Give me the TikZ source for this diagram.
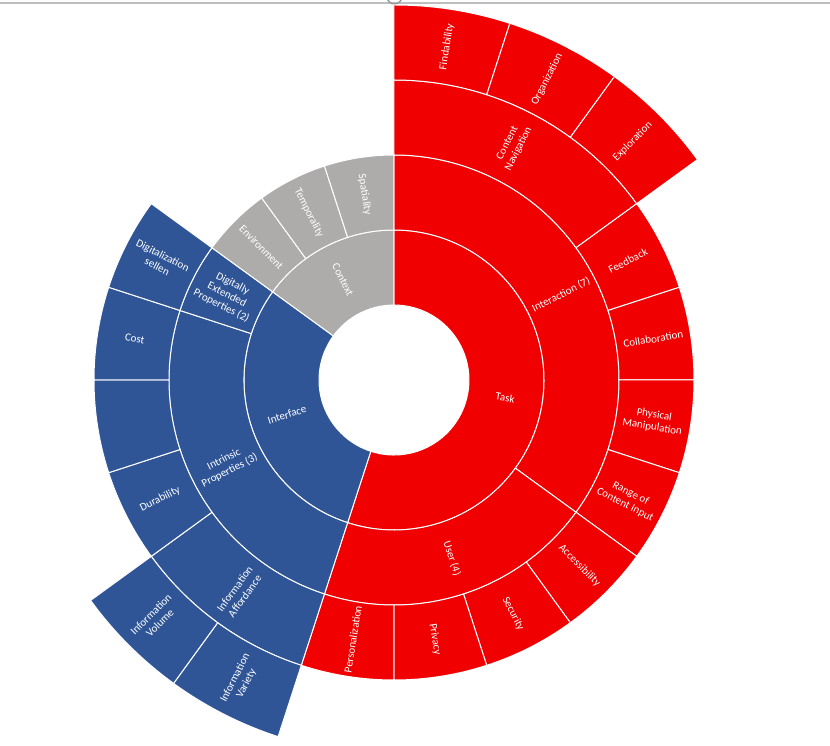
\documentclass[tikz,border=0pt]{standalone}
\usepackage{fontspec}
\setmainfont{Carlito}

\definecolor{taskred}{RGB}{240,0,0}
\definecolor{ifaceblue}{RGB}{47,85,151}
\definecolor{ctxgray}{RGB}{174,171,171}
\definecolor{framegray}{RGB}{190,190,190}

% #1 fill, #2 inner radius, #3 outer radius, #4 start angle, #5 end angle, #6 name, #7 text
\newcommand{\sunsector}[7]{
    \pgfmathsetmacro{\midang}{(#4+#5)/2}
    \pgfmathsetmacro{\midrad}{(#2+#3)/2}
    \pgfmathsetmacro{\labrot}{cos(\midang) >= 0 ? \midang : \midang+180}
    \filldraw[sunwedge, fill=#1] (#4:#2) -- (#4:#3) arc[start angle=#4, end angle=#5, radius=#3]
        -- (#5:#2) arc[start angle=#5, end angle=#4, radius=#2] -- cycle;
    \node[seclabel, rotate=\labrot] (#6) at (\midang:\midrad) {#7};
}

\begin{document}
\begin{tikzpicture}[x=1pt, y=1pt]
    \tikzstyle{every node}=[align=center];
    \tikzstyle{sunwedge} = [draw=white, line width=1pt, line join=miter]
    \tikzstyle{seclabel} = [text=white, inner sep=0pt, font=\fontsize{11}{12.5}\selectfont]

    \useasboundingbox (-394,-366) rectangle (436,380);

    % chart frame at the top
    \draw[framegray, line width=1.5pt] (-394,377) -- (436,377);
    \draw[framegray!80!black, line width=1.5pt] (-7,383.5) arc[start angle=180, end angle=360, radius=7.5];

    % inner ring
    \sunsector{taskred}{75}{150}{90}{-108}{Task}{Task}
    \sunsector{ifaceblue}{75}{150}{252}{144}{Interface}{Interface}
    \sunsector{ctxgray}{75}{150}{144}{90}{Context}{Context}

    % second ring
    \sunsector{taskred}{150}{225}{90}{-36}{Interaction}{Interaction (7)}
    \sunsector{taskred}{150}{225}{-36}{-108}{User}{User (4)}
    \sunsector{ifaceblue}{150}{225}{252}{162}{Intrinsic}{Intrinsic\\Properties (3)}
    \sunsector{ifaceblue}{150}{225}{162}{144}{DigExtended}{Digitally\\Extended\\Properties (2)}
    \sunsector{ctxgray}{150}{225}{144}{126}{Environment}{Environment}
    \sunsector{ctxgray}{150}{225}{126}{108}{Temporality}{Temporality}
    \sunsector{ctxgray}{150}{225}{108}{90}{Spatiality}{Spatiality}

    % third ring
    \sunsector{taskred}{225}{300}{90}{36}{ContentNav}{Content\\Navigation}
    \sunsector{taskred}{225}{300}{36}{18}{Feedback}{Feedback}
    \sunsector{taskred}{225}{300}{18}{0}{Collaboration}{Collaboration}
    \sunsector{taskred}{225}{300}{0}{-18}{PhysManip}{Physical\\Manipulation}
    \sunsector{taskred}{225}{300}{-18}{-36}{RangeInput}{Range of\\Content Input}
    \sunsector{taskred}{225}{300}{-36}{-54}{Accessibility}{Accessibility}
    \sunsector{taskred}{225}{300}{-54}{-72}{Security}{Security}
    \sunsector{taskred}{225}{300}{-72}{-90}{Privacy}{Privacy}
    \sunsector{taskred}{225}{300}{-90}{-108}{Personalization}{Personalization}
    \sunsector{ifaceblue}{225}{300}{252}{216}{InfoAffordance}{Information\\Affordance}
    \sunsector{ifaceblue}{225}{300}{216}{198}{Durability}{Durability}
    \sunsector{ifaceblue}{225}{300}{198}{180}{Unnamed}{}
    \sunsector{ifaceblue}{225}{300}{180}{162}{Cost}{Cost}
    \sunsector{ifaceblue}{225}{300}{162}{144}{DigSellen}{Digitalization\\sellen}

    % outer ring
    \sunsector{taskred}{300}{375}{90}{72}{Findability}{Findability}
    \sunsector{taskred}{300}{375}{72}{54}{Organization}{Organization}
    \sunsector{taskred}{300}{375}{54}{36}{Exploration}{Exploration}
    \sunsector{ifaceblue}{300}{375}{252}{234}{InfoVariety}{Information\\Variety}
    \sunsector{ifaceblue}{300}{375}{234}{216}{InfoVolume}{Information\\Volume}

\end{tikzpicture}
\end{document}
